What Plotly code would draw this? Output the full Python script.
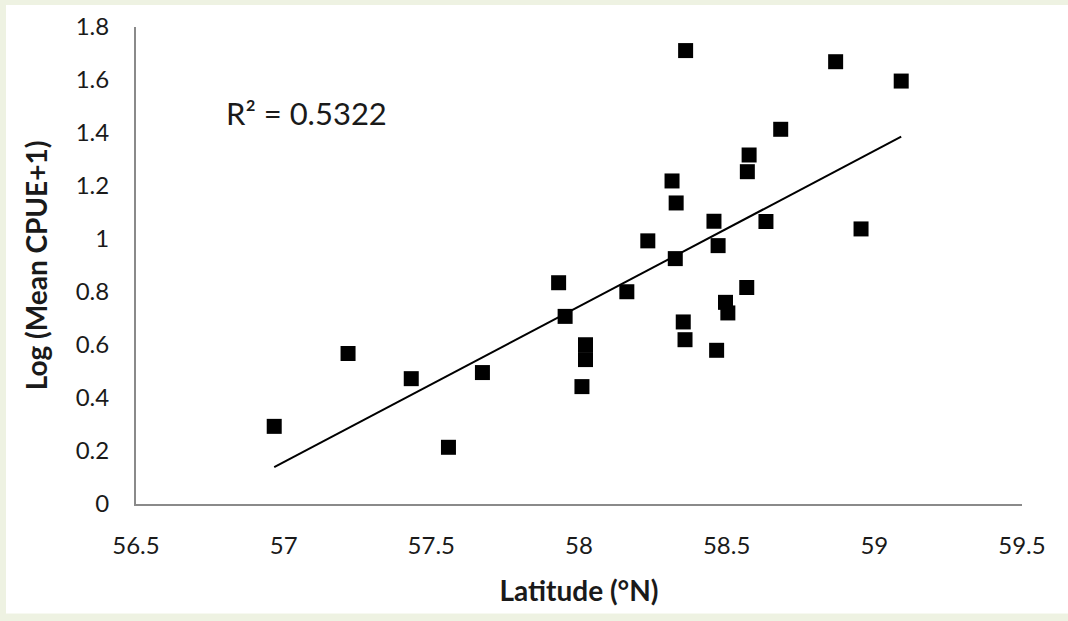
import numpy as np
import plotly.graph_objects as go

# Data
latitude = [56.968, 57.218, 57.432, 57.558, 57.673, 57.931, 57.953, 58.010, 58.022, 58.022,
            58.162, 58.233, 58.315, 58.329, 58.326, 58.361, 58.353, 58.359, 58.457, 58.471,
            58.466, 58.496, 58.504, 58.570, 58.576, 58.568, 58.633, 58.683, 58.869, 58.955,
            59.091]
log_cpue = [0.293, 0.568, 0.473, 0.214, 0.496, 0.835, 0.708, 0.443, 0.601, 0.545,
            0.801, 0.993, 1.219, 1.136, 0.926, 1.711, 0.687, 0.620, 1.067, 0.975,
            0.580, 0.761, 0.721, 1.254, 1.317, 0.817, 1.066, 1.414, 1.669, 1.038,
            1.596]
r2_label = "R² = 0.5322"
x_ticks = [56.5, 57, 57.5, 58, 58.5, 59, 59.5]
y_ticks = [0, 0.2, 0.4, 0.6, 0.8, 1, 1.2, 1.4, 1.6, 1.8]

x = np.array(latitude)
y = np.array(log_cpue)
slope, intercept = np.polyfit(x, y, 1)
trend_x = np.array([x.min(), x.max()])
trend_y = slope * trend_x + intercept

FONT = "Lato"
fig = go.Figure()
fig.add_trace(go.Scatter(x=latitude, y=log_cpue, mode="markers",
                         marker=dict(symbol="square", size=15, color="black"),
                         showlegend=False))
fig.add_trace(go.Scatter(x=trend_x, y=trend_y, mode="lines",
                         line=dict(color="black", width=2), showlegend=False))

W, H = 1068, 621
L, R, T, B = 136, 46, 27, 116.5
pw, ph = W - L - R, H - T - B
def px(xp):
    return (xp - L) / pw
def py(yp):
    return (H - B - yp) / ph

fig.add_shape(type="rect", xref="paper", yref="paper", layer="below",
              x0=px(6), x1=px(1090), y0=py(614), y1=py(5),
              fillcolor="white", line=dict(width=0))

fig.add_annotation(x=57.076, y=1.476, xref="x", yref="y", text=r2_label,
                   showarrow=False, font=dict(family=FONT, size=31, color="#1a1a1a"))

fig.update_layout(
    width=W, height=H,
    margin=dict(l=L, r=R, t=T, b=B),
    paper_bgcolor="#eef2e2",
    plot_bgcolor="white",
    font=dict(family=FONT, size=24, color="#1a1a1a"),
    xaxis=dict(range=[56.5, 59.5], tickvals=x_ticks, ticktext=[str(v) for v in x_ticks],
               showgrid=False, zeroline=False, showline=True, linecolor="#8a8a8a", linewidth=2,
               ticks="outside", ticklen=19, tickcolor="rgba(0,0,0,0)",
               title=dict(text="<b>Latitude (°N)</b>", font=dict(family=FONT, size=28), standoff=24)),
    yaxis=dict(range=[0, 1.8], tickvals=y_ticks, ticktext=[f"{v:g}" for v in y_ticks],
               showgrid=False, zeroline=False, showline=True, linecolor="#8a8a8a", linewidth=2,
               ticks="outside", ticklen=20, tickcolor="rgba(0,0,0,0)",
               title=dict(text="<b>Log (Mean CPUE+1)</b>", font=dict(family=FONT, size=28), standoff=20)),
)
fig.write_html("out.html", config={"displayModeBar": False},
               post_script="document.body.style.margin='0';document.body.style.background='#eef2e2';")
